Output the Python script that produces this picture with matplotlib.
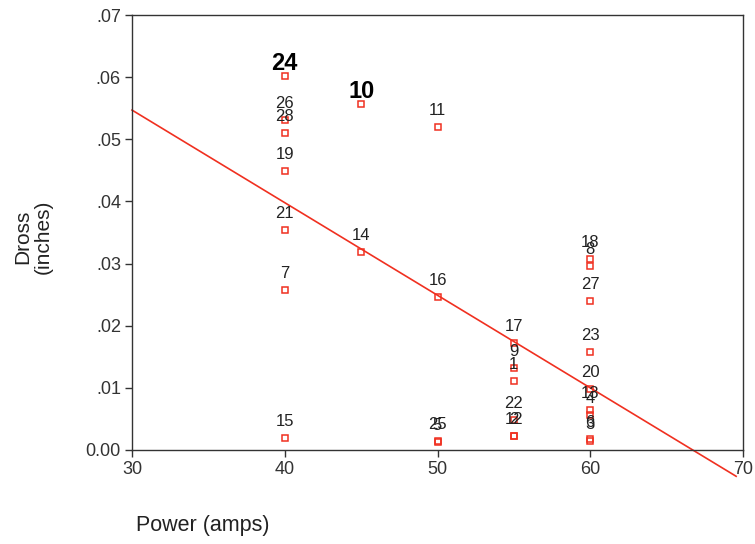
import numpy as np
import matplotlib
matplotlib.use("Agg")
import matplotlib.pyplot as plt

plt.rcParams['font.family'] = ['Liberation Sans', 'DejaVu Sans']

# Data: case id, power (amps), dross (inches)
case_ids = [24, 26, 28, 19, 21, 7, 15,
            10, 14,
            11, 16, 25, 5,
            17, 9, 1, 22, 12, 2,
            18, 8, 27, 23, 20, 13, 4, 6, 3]
power = [40, 40, 40, 40, 40, 40, 40,
         45, 45,
         50, 50, 50, 50,
         55, 55, 55, 55, 55, 55,
         60, 60, 60, 60, 60, 60, 60, 60, 60]
dross = [0.0602, 0.0531, 0.0510, 0.0449, 0.0354, 0.0257, 0.0019,
         0.0557, 0.0319,
         0.0520, 0.0246, 0.0014, 0.0013,
         0.0172, 0.0132, 0.0111, 0.0048, 0.0023, 0.0022,
         0.0307, 0.0296, 0.0240, 0.0158, 0.0098, 0.0064, 0.0056, 0.0018, 0.0014]
bold_ids = [24, 10]

# fitted regression line as shown in the chart
fit_intercept = 0.0994
fit_slope = -0.00149
fit_x_range = [30, 69.55]

x_ticks = [30, 40, 50, 60, 70]
y_ticks = [0.0, 0.01, 0.02, 0.03, 0.04, 0.05, 0.06, 0.07]
y_tick_labels = ['0.00', '.01', '.02', '.03', '.04', '.05', '.06', '.07']

RED = '#f03020'
fig = plt.figure(figsize=(7.55, 5.44), dpi=100)
ax = fig.add_axes([132/755, 1-450/544, (743-132)/755, (450-15)/544])

ax.plot(power, dross, linestyle='none', marker='s', markersize=5,
        markerfacecolor='none', markeredgecolor=RED, markeredgewidth=1.1)

xl = np.array(fit_x_range)
ax.plot(xl, fit_intercept + fit_slope * xl, color=RED, linewidth=1.2, clip_on=False)

for cid, x, y in zip(case_ids, power, dross):
    if cid in bold_ids:
        ax.annotate(str(cid), (x, y), xytext=(0, 9), textcoords='offset points',
                    ha='center', va='center', fontsize=17, fontweight='bold', color='black')
    else:
        ax.annotate(str(cid), (x, y), xytext=(0, 12), textcoords='offset points',
                    ha='center', va='center', fontsize=12, color='#222222')

ax.set_xlim(30, 70)
ax.set_ylim(0, 0.07)
ax.set_xticks(x_ticks)
ax.set_xticklabels([str(t) for t in x_ticks], fontsize=13, color='#333333')
ax.set_yticks(y_ticks)
ax.set_yticklabels(y_tick_labels, fontsize=13, color='#333333')
ax.tick_params(direction='out', length=5, width=1, color='#333333', pad=3)
for s in ax.spines.values():
    s.set_color('#333333')
    s.set_linewidth(1.0)

fig.text(33/755, 1-237/544, 'Dross\n(inches)', rotation=90, ha='center', va='center',
         fontsize=15, color='#222222', linespacing=1.15)
fig.text(203/755, 1-526/544, 'Power (amps)', ha='center', va='center',
         fontsize=15.5, color='#222222')

fig.savefig('out.png', dpi=100)
